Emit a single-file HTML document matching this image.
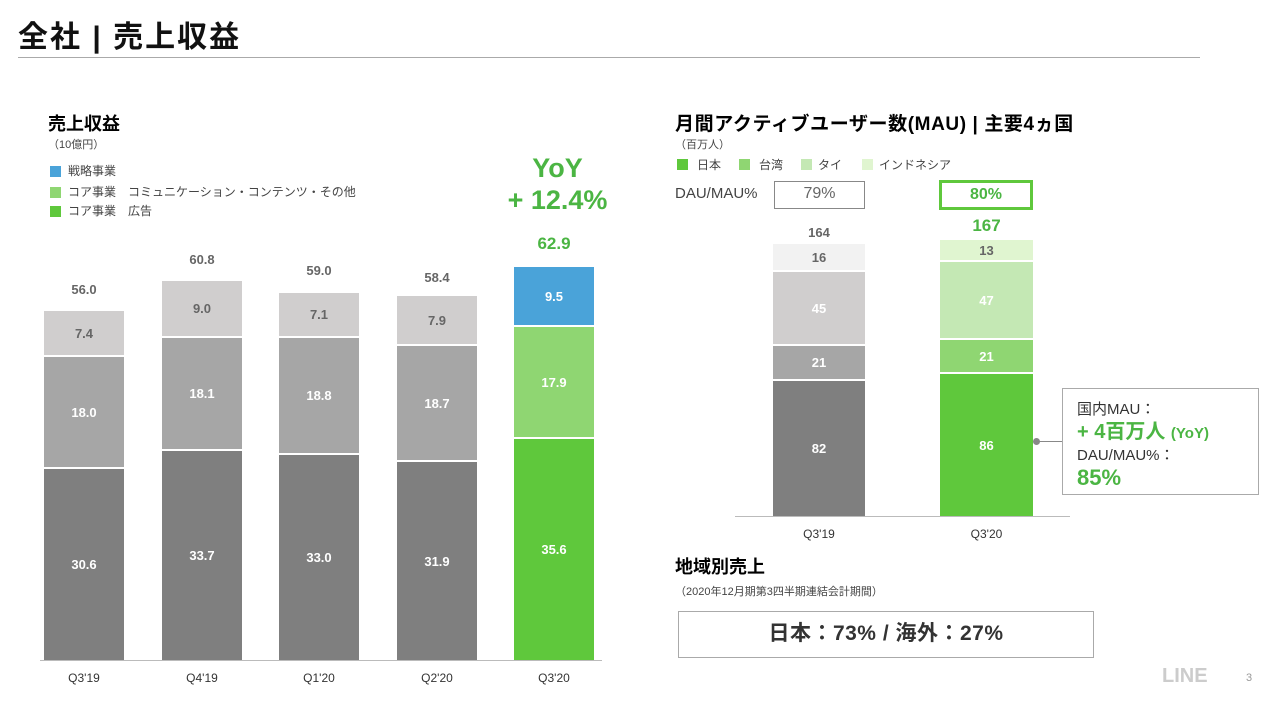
<!DOCTYPE html><html><head><meta charset="utf-8"><style>
body{margin:0;width:1280px;height:708px;background:#fff;position:relative;overflow:hidden;font-family:"Liberation Sans","Noto Sans CJK JP",sans-serif;}
div{position:absolute;box-sizing:border-box}
.b{font-weight:bold}
.s{display:flex;align-items:center;justify-content:center;font-weight:bold;font-size:13px;color:#fff}
.t{text-align:center;font-weight:bold;font-size:13px;color:#666}
.x{text-align:center;font-size:12px;color:#333}
.lg{font-size:12px;color:#444}
.sq{width:11px;height:11px}
</style></head><body>
<div class="b" style="left:18px;top:12px;font-size:30px;color:#111;letter-spacing:2px">全社 | 売上収益</div>
<div style="left:18px;top:57px;width:1182px;height:1px;background:#aaa"></div>

<div class="b" style="left:48px;top:110px;font-size:18px">売上収益</div>
<div class="lg" style="left:48px;top:136px;font-size:11px">（10億円）</div>
<div class="sq" style="left:50px;top:166px;background:#4aa3d9"></div><div class="lg" style="left:68px;top:162px">戦略事業</div>
<div class="sq" style="left:50px;top:187px;background:#8fd672"></div><div class="lg" style="left:68px;top:183px">コア事業　コミュニケーション・コンテンツ・その他</div>
<div class="sq" style="left:50px;top:206px;background:#5fc83c"></div><div class="lg" style="left:68px;top:202px">コア事業　広告</div>
<div class="b" style="left:490px;top:152px;width:135px;text-align:center;font-size:27px;color:#4bb543;line-height:32px">YoY<br>+ 12.4%</div>

<div style="left:40px;top:660px;width:562px;height:1px;background:#bbb"></div>
<div class="t" style="left:44px;top:282px;width:80px">56.0</div>
<div class="s" style="left:44px;top:311px;width:80px;height:44px;background:#d0cece;color:#666">7.4</div>
<div class="s" style="left:44px;top:357px;width:80px;height:110px;background:#a6a6a6">18.0</div>
<div class="s" style="left:44px;top:469px;width:80px;height:191px;background:#7f7f7f">30.6</div>
<div class="t" style="left:162px;top:252px;width:80px">60.8</div>
<div class="s" style="left:162px;top:281px;width:80px;height:55px;background:#d0cece;color:#666">9.0</div>
<div class="s" style="left:162px;top:338px;width:80px;height:111px;background:#a6a6a6">18.1</div>
<div class="s" style="left:162px;top:451px;width:80px;height:209px;background:#7f7f7f">33.7</div>
<div class="t" style="left:279px;top:263px;width:80px">59.0</div>
<div class="s" style="left:279px;top:293px;width:80px;height:43px;background:#d0cece;color:#666">7.1</div>
<div class="s" style="left:279px;top:338px;width:80px;height:115px;background:#a6a6a6">18.8</div>
<div class="s" style="left:279px;top:455px;width:80px;height:205px;background:#7f7f7f">33.0</div>
<div class="t" style="left:397px;top:270px;width:80px">58.4</div>
<div class="s" style="left:397px;top:296px;width:80px;height:48px;background:#d0cece;color:#666">7.9</div>
<div class="s" style="left:397px;top:346px;width:80px;height:114px;background:#a6a6a6">18.7</div>
<div class="s" style="left:397px;top:462px;width:80px;height:198px;background:#7f7f7f">31.9</div>
<div class="t" style="left:514px;top:234px;width:80px;font-size:17px;color:#4bb543">62.9</div>
<div class="s" style="left:514px;top:267px;width:80px;height:58px;background:#4aa3d9">9.5</div>
<div class="s" style="left:514px;top:327px;width:80px;height:110px;background:#8fd672">17.9</div>
<div class="s" style="left:514px;top:439px;width:80px;height:221px;background:#5fc83c">35.6</div>
<div class="x" style="left:44px;top:671px;width:80px">Q3'19</div>
<div class="x" style="left:162px;top:671px;width:80px">Q4'19</div>
<div class="x" style="left:279px;top:671px;width:80px">Q1'20</div>
<div class="x" style="left:397px;top:671px;width:80px">Q2'20</div>
<div class="x" style="left:514px;top:671px;width:80px">Q3'20</div>

<div class="b" style="left:675px;top:109px;font-size:19px;letter-spacing:0.6px">月間アクティブユーザー数(MAU) | 主要4ヵ国</div>
<div class="lg" style="left:675px;top:136px;font-size:11px">（百万人）</div>
<div class="sq" style="left:677px;top:159px;background:#5fc83c"></div><div class="lg" style="left:697px;top:156px">日本</div>
<div class="sq" style="left:739px;top:159px;background:#8fd672"></div><div class="lg" style="left:759px;top:156px">台湾</div>
<div class="sq" style="left:801px;top:159px;background:#c4e8b4"></div><div class="lg" style="left:818px;top:156px">タイ</div>
<div class="sq" style="left:862px;top:159px;background:#e0f5d0"></div><div class="lg" style="left:879px;top:156px">インドネシア</div>
<div style="left:675px;top:185px;font-size:15px;color:#444">DAU/MAU%</div>
<div style="left:774px;top:181px;width:91px;height:28px;border:1.5px solid #888;text-align:center;font-size:16px;color:#666;line-height:24px">79%</div>
<div class="b" style="left:939px;top:180px;width:94px;height:30px;border:3px solid #5fc83c;text-align:center;font-size:16px;color:#4bb543;line-height:24px">80%</div>
<div style="left:735px;top:516px;width:335px;height:1px;background:#bbb"></div>
<div class="t" style="left:773px;top:225px;width:92px">164</div>
<div class="s" style="left:773px;top:244px;width:92px;height:26px;background:#f2f2f2;color:#666">16</div>
<div class="s" style="left:773px;top:272px;width:92px;height:72px;background:#d0cece">45</div>
<div class="s" style="left:773px;top:346px;width:92px;height:33px;background:#a6a6a6">21</div>
<div class="s" style="left:773px;top:381px;width:92px;height:135px;background:#7f7f7f">82</div>
<div class="t" style="left:940px;top:216px;width:93px;font-size:17px;color:#4bb543">167</div>
<div class="s" style="left:940px;top:240px;width:93px;height:20px;background:#e0f5d0;color:#666">13</div>
<div class="s" style="left:940px;top:262px;width:93px;height:76px;background:#c4e8b4">47</div>
<div class="s" style="left:940px;top:340px;width:93px;height:32px;background:#8fd672">21</div>
<div class="s" style="left:940px;top:374px;width:93px;height:142px;background:#5fc83c">86</div>
<div class="x" style="left:773px;top:527px;width:92px">Q3'19</div>
<div class="x" style="left:940px;top:527px;width:93px">Q3'20</div>
<div style="left:1033px;top:438px;width:7px;height:7px;border-radius:50%;background:#888"></div>
<div style="left:1038px;top:441px;width:24px;height:1px;background:#888"></div>
<div style="left:1062px;top:388px;width:197px;height:107px;border:1px solid #aaa;padding:10px 0 0 14px;font-size:15px;color:#333;line-height:22px">国内MAU：<br><span class="b" style="color:#4bb543;font-size:20px">+ 4百万人 <span style="font-size:15px">(YoY)</span></span><br>DAU/MAU%：<br><span class="b" style="color:#4bb543;font-size:22px">85%</span></div>

<div class="b" style="left:675px;top:553px;font-size:18px">地域別売上</div>
<div class="lg" style="left:675px;top:583px;font-size:11px">（2020年12月期第3四半期連結会計期間）</div>
<div class="b" style="left:678px;top:611px;width:416px;height:47px;border:1px solid #aaa;text-align:center;font-size:21px;line-height:44px;color:#333;letter-spacing:0.5px">日本：73% / 海外：27%</div>
<div class="b" style="left:1162px;top:665px;font-size:20px;color:#ccc">LINE</div>
<div style="left:1246px;top:672px;font-size:11px;color:#999">3</div>
</body></html>
